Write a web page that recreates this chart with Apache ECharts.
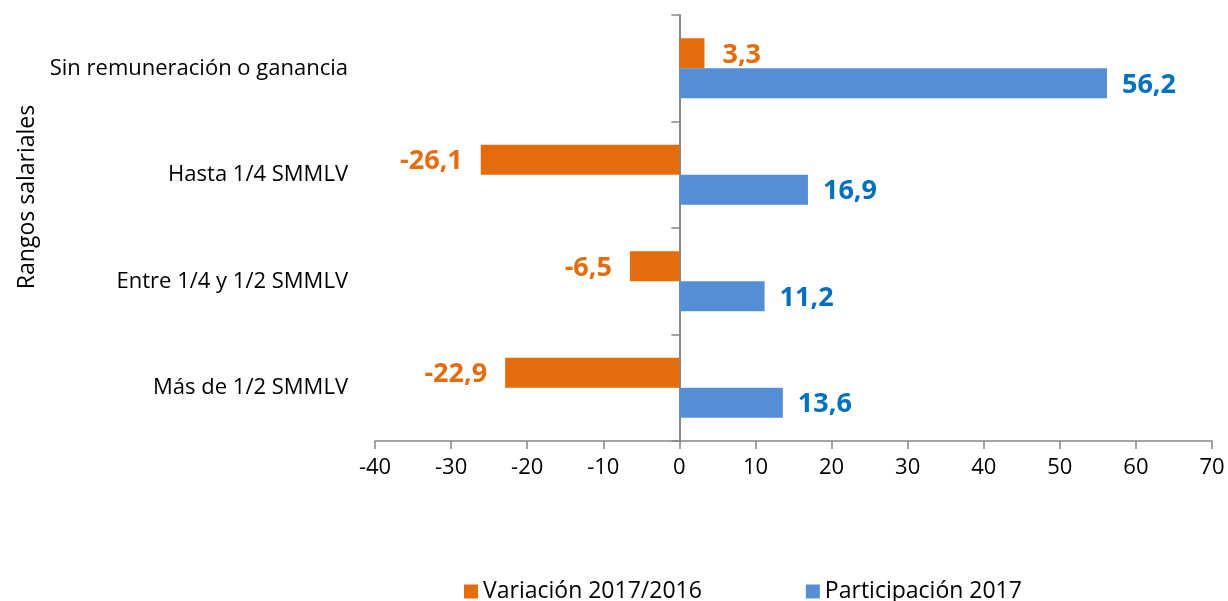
<!DOCTYPE html>
<html>
<head>
<meta charset="utf-8">
<script src="https://cdn.jsdelivr.net/npm/echarts@6/dist/echarts.min.js"></script>
<style>
  html, body { margin: 0; padding: 0; background: #fff; }
  #main { width: 1228px; height: 601px; }
</style>
</head>
<body>
<div id="main"></div>
<script>
var categories = ['Sin remuneración o ganancia', 'Hasta 1/4 SMMLV', 'Entre 1/4 y 1/2 SMMLV', 'Más de 1/2 SMMLV'];
var variacion = [3.3, -26.1, -6.5, -22.9];
var participacion = [56.2, 16.9, 11.2, 13.6];
var xTicks = { min: -40, max: 70, interval: 10 };

var ORANGE = '#E46C0A';
var BLUE = '#558ED5';
var BLUE_LABEL = '#0070C0';
var FONT = 'Open Sans';

// etiqueta a la derecha si es positivo, a la izquierda si es negativo
function withLabels(values) {
  return values.map(function (v) {
    return { value: v, label: { position: v < 0 ? 'left' : 'right' } };
  });
}

function fmt(p) {
  return String(p.value).replace('.', ',');
}

var myChart = echarts.init(document.getElementById('main'));

var option = {
  backgroundColor: '#fff',
  animation: false,
  textStyle: { fontFamily: FONT },
  grid: { left: 375, right: 16, top: 15, bottom: 160 },
  legend: {
    bottom: -7,
    left: 459,
    icon: 'rect',
    itemWidth: 14,
    itemHeight: 14,
    itemGap: 104,
    textStyle: { fontSize: 23, color: '#000', fontFamily: FONT },
    data: ['Variación 2017/2016', 'Participación 2017']
  },
  xAxis: {
    type: 'value',
    min: xTicks.min,
    max: xTicks.max,
    interval: xTicks.interval,
    splitLine: { show: false },
    axisLine: { show: true, onZero: false, lineStyle: { color: '#868686', width: 1.5 } },
    axisTick: { show: true, length: 8, lineStyle: { color: '#868686', width: 1.5 } },
    axisLabel: { fontSize: 22, color: '#000', margin: 16, fontFamily: FONT }
  },
  yAxis: [
    {
      type: 'category',
      data: categories,
      inverse: true,
      axisLine: { show: false, onZero: false },
      axisTick: { show: false },
      axisLabel: { fontSize: 22, color: '#000', margin: 27, fontFamily: FONT },
      name: 'Rangos salariales',
      nameLocation: 'middle',
      nameRotate: 90,
      nameGap: 336,
      nameTextStyle: { fontSize: 23, color: '#000', fontFamily: FONT, padding: [0, 0, 0, 62] }
    },
    {
      type: 'category',
      data: categories,
      inverse: true,
      position: 'left',
      axisLine: { show: true, onZero: true, lineStyle: { color: '#868686', width: 2 } },
      axisTick: { show: true, length: 8, lineStyle: { color: '#868686', width: 1.5 } },
      axisLabel: { show: false }
    }
  ],
  series: [
    {
      name: 'Variación 2017/2016',
      type: 'bar',
      yAxisIndex: 0,
      barWidth: 30,
      barGap: '0%',
      itemStyle: { color: ORANGE },
      label: {
        show: true,
        distance: 18,
        formatter: fmt,
        fontSize: 27,
        fontWeight: 'bold',
        color: ORANGE,
        fontFamily: FONT,
        offset: [0, 2]
      },
      data: withLabels(variacion)
    },
    {
      name: 'Participación 2017',
      type: 'bar',
      yAxisIndex: 0,
      barWidth: 30,
      barGap: '0%',
      itemStyle: { color: BLUE },
      label: {
        show: true,
        distance: 15,
        formatter: fmt,
        fontSize: 27,
        fontWeight: 'bold',
        color: BLUE_LABEL,
        fontFamily: FONT,
        offset: [0, 2]
      },
      data: withLabels(participacion)
    }
  ]
};

myChart.setOption(option);
window.addEventListener('resize', function () {
  myChart.resize();
});
</script>
</body>
</html>
